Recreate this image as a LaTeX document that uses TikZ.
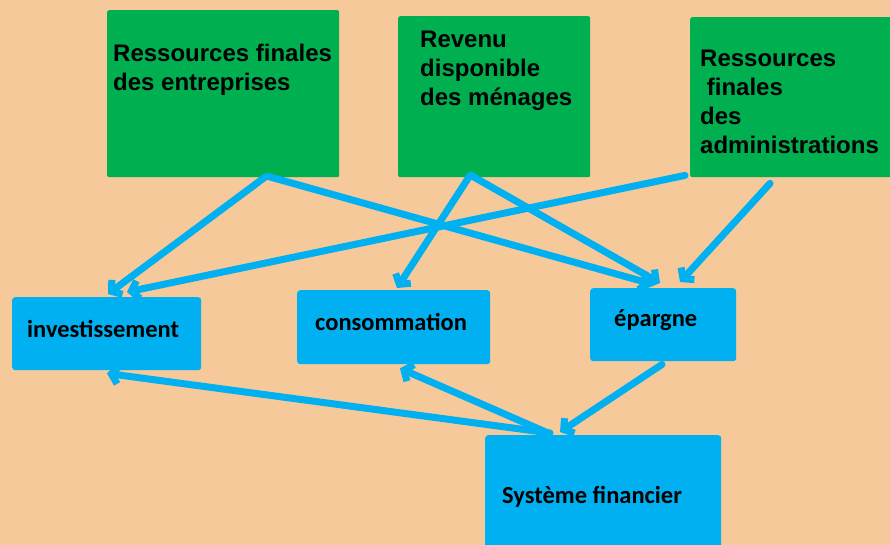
\documentclass[tikz,border=0pt]{standalone}
\usepackage{fontspec}
\setmainfont{Liberation Sans}
\newfontfamily\calibriface{Carlito}
\usetikzlibrary{arrows.meta}
\definecolor{peach}{HTML}{F5C99A}
\definecolor{boxgreen}{HTML}{00B050}
\definecolor{boxblue}{HTML}{00B0F0}
\tikzset{
	greenbox/.style={fill=boxgreen, rounded corners=2pt, inner sep=0pt, anchor=north west},
	bluebox/.style={fill=boxblue, rounded corners=3pt, inner sep=0pt, anchor=north west},
	greentext/.style={anchor=base west, align=left, inner sep=0pt, font=\fontsize{24}{29}\selectfont\bfseries},
	bluetext/.style={anchor=base west, inner sep=0pt, font=\calibriface\fontsize{24.5}{28}\selectfont\bfseries},
	flow/.style={draw=boxblue, line width=7pt, line cap=round, -{Straight Barb[length=7pt,width=18pt]}}
}
\begin{document}
\begin{tikzpicture}[x=1pt, y=-1pt]
	\useasboundingbox (0,0) rectangle (890,545);
	\clip (0,0) rectangle (890,545);
	\fill[peach] (0,0) rectangle (890,545);
	% sources
	\node[greenbox, minimum width=232pt, minimum height=167pt] (g1) at (107,10) {};
	\node[greenbox, minimum width=192pt, minimum height=161pt] (g2) at (398,16) {};
	\node[greenbox, minimum width=202pt, minimum height=160pt] (g3) at (690,17) {};
	\node[greentext] (tg1) at (113,91) {Ressources finales\\des entreprises};
	\node[greentext] (tg2) at (420,106) {Revenu\\disponible\\des ménages};
	\node[greentext] (tg3) at (700,154) {Ressources\\~finales\\des\\administrations};
	% uses
	\node[bluebox, minimum width=189pt, minimum height=73pt] (inv) at (12,297) {};
	\node[bluebox, minimum width=193pt, minimum height=74pt] (cons) at (297,290) {};
	\node[bluebox, minimum width=146pt, minimum height=73pt] (ep) at (590,288) {};
	\node[bluebox, minimum width=236pt, minimum height=115pt] (sys) at (485,435) {};
	\node[bluetext] (tinv) at (27,337) {investissement};
	\node[bluetext] (tcons) at (315,330) {consommation};
	\node[bluetext] (tep) at (614,326) {épargne};
	\node[bluetext] (tsys) at (502,503) {Système financier};
	% flows
	\draw[flow] ([xshift=159pt,yshift=1pt]g1.south west) -- ([xshift=96pt,yshift=3pt]inv.north west);
	\draw[flow] ([xshift=161pt,yshift=1pt]g1.south west) -- ([xshift=62pt,yshift=4pt]ep.north west);
	\draw[flow] ([xshift=72pt,yshift=2pt]g2.south west) -- ([xshift=100pt,yshift=2pt]cons.north west);
	\draw[flow] ([xshift=73pt,yshift=2pt]g2.south west) -- ([xshift=70pt,yshift=5pt]ep.north west);
	\draw[flow] ([xshift=-5pt,yshift=2pt]g3.south west) -- ([xshift=115pt,yshift=5pt]inv.north west);
	\draw[flow] ([xshift=80pt,yshift=-6pt]g3.south west) -- ([xshift=90pt,yshift=6pt]ep.north west);
	\draw[flow] ([xshift=72pt,yshift=-3pt]ep.south west) -- ([xshift=75pt,yshift=3pt]sys.north west);
	\draw[flow] ([xshift=65pt,yshift=2pt]sys.north west) -- ([xshift=95pt,yshift=-3pt]inv.south west);
	\draw[flow] ([xshift=63pt,yshift=2pt]sys.north west) -- ([xshift=103pt,yshift=-4pt]cons.south west);
\end{tikzpicture}
\end{document}
